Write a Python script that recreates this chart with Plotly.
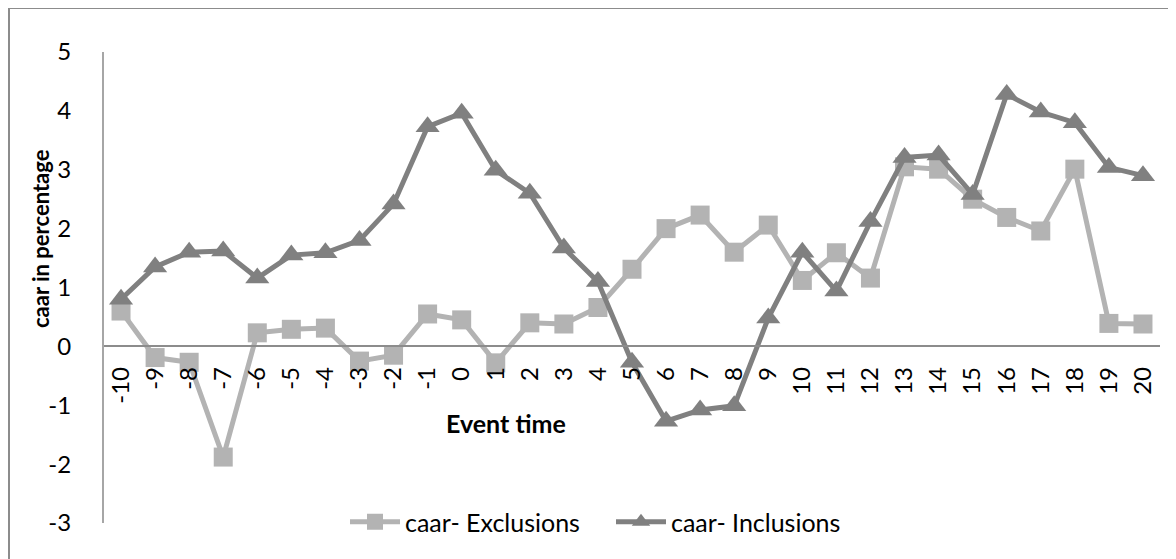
import plotly.graph_objects as go

event_time = [str(v) for v in range(-10, 21)]
caar_exclusions = [0.60, -0.19, -0.27, -1.88, 0.23, 0.29, 0.31, -0.25, -0.15, 0.55,
                   0.45, -0.28, 0.40, 0.38, 0.66, 1.31, 2.00, 2.23, 1.60, 2.06,
                   1.12, 1.59, 1.16, 3.05, 3.01, 2.50, 2.19, 1.96, 3.01, 0.39, 0.38]
caar_inclusions = [0.80, 1.35, 1.60, 1.62, 1.16, 1.55, 1.59, 1.80, 2.42, 3.73,
                   3.96, 2.99, 2.60, 1.67, 1.10, -0.27, -1.27, -1.08, -1.01, 0.48,
                   1.60, 0.94, 2.12, 3.21, 3.25, 2.58, 4.28, 3.98, 3.80, 3.04, 2.90]
y_ticks = [-3, -2, -1, 0, 1, 2, 3, 4, 5]
y_tick_text = ["-3", "-2", "-1", "0", "1", "2", "3", "4", "5"]

FONT = "Lato"
W, H = 1176, 559
OFF = 8  # browser default body margin
# plot area in page pixels
PL, PR, PT, PB = 104, 1160, 52, 523
L = PL - OFF
T = PT - OFF
R = W - (PR - OFF)
B = H - (PB - OFF)
pw, ph = PR - PL, PB - PT

def px_x(p):
    return (p - PL) / pw

def px_y(p):
    return (PB - p) / ph

fig = go.Figure()
fig.add_trace(go.Scatter(
    x=event_time, y=caar_exclusions, name="caar- Exclusions", mode="lines+markers",
    line=dict(color="#b3b3b3", width=5),
    marker=dict(symbol="square", size=19, color="#b3b3b3"),
    legend="legend",
))
fig.add_trace(go.Scatter(
    x=event_time, y=caar_inclusions, name="caar- Inclusions", mode="lines+markers",
    line=dict(color="#808080", width=5),
    marker=dict(symbol="triangle-up", size=21, color="#808080"),
    legend="legend2",
))

y0_frac = (0 - (-3)) / (5 - (-3))
leg_common = dict(orientation="h", xanchor="left", y=px_y(522), yanchor="middle",
                  font=dict(family=FONT, size=25, color="black"), bgcolor="rgba(0,0,0,0)",
                  itemwidth=50)

fig.update_layout(
    width=W, height=H,
    margin=dict(l=L, r=R, t=T, b=B),
    paper_bgcolor="white", plot_bgcolor="white",
    font=dict(family=FONT, size=24, color="black"),
    showlegend=True,
    legend=dict(x=px_x(345), **leg_common),
    legend2=dict(x=px_x(611), **leg_common),
    xaxis=dict(type="category", categoryorder="array", categoryarray=event_time,
               range=[-0.5, len(event_time) - 0.5],
               anchor="free", position=y0_frac,
               showline=True, linecolor="#8c8c8c", linewidth=2,
               showgrid=False, zeroline=False, ticks="", tickangle=-90,
               tickfont=dict(family=FONT, size=24, color="black"),
               ticklabelstandoff=10),
    yaxis=dict(range=[-3, 5], tickvals=y_ticks, ticktext=y_tick_text,
               showline=True, linecolor="#a6a6a6", linewidth=2,
               showgrid=False, zeroline=False, ticks="",
               tickfont=dict(family=FONT, size=24, color="black"),
               ticklabelstandoff=26),
    annotations=[
        dict(text="<b>Event time</b>", xref="paper", yref="paper", x=px_x(506), y=px_y(423),
             xanchor="center", yanchor="middle",
             showarrow=False, font=dict(family=FONT, size=25, color="black")),
        dict(text="<b>caar in percentage</b>", xref="paper", yref="paper", x=px_x(40), y=px_y(239),
             xanchor="center", yanchor="middle",
             showarrow=False, textangle=-90, font=dict(family=FONT, size=22, color="black")),
    ],
    shapes=[
        dict(type="line", xref="paper", yref="paper", x0=px_x(9), x1=px_x(1190), y0=px_y(8), y1=px_y(8),
             line=dict(color="#8c8c8c", width=2)),
        dict(type="line", xref="paper", yref="paper", x0=px_x(9), x1=px_x(9), y0=px_y(8), y1=px_y(575),
             line=dict(color="#8c8c8c", width=2)),
    ],
)

fig.write_html("out.html")
